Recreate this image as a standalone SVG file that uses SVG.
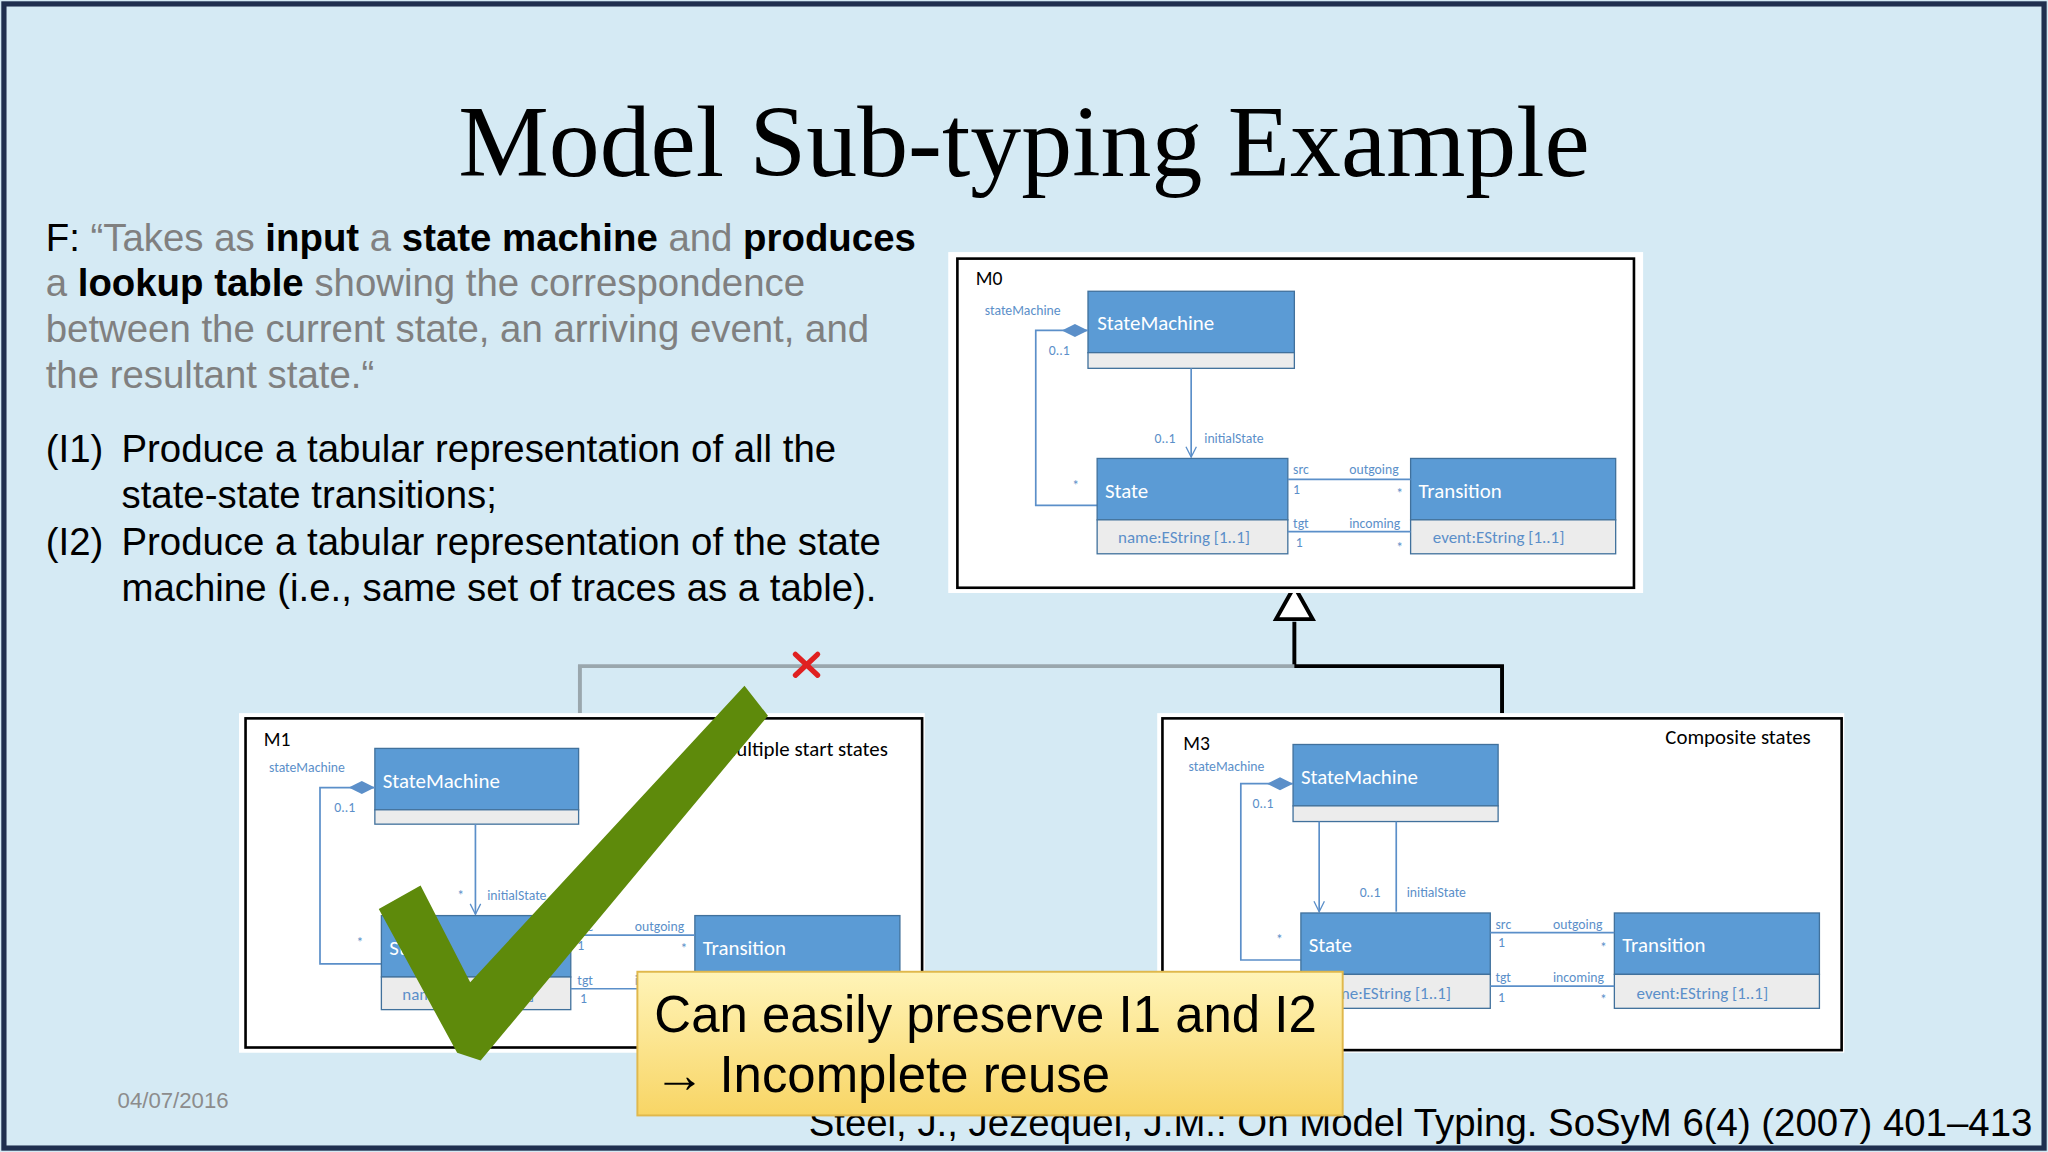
<svg xmlns="http://www.w3.org/2000/svg" width="2048" height="1152" viewBox="0 0 2048 1152">
<defs>
<style>
.t{font-family:"Liberation Sans",Arial,sans-serif}
.c{font-family:Carlito,"Open Sans","Liberation Sans",sans-serif}
.cls{fill:#5b9bd5;stroke:#41719c;stroke-width:1}
.cmp{fill:#ececec;stroke:#41719c;stroke-width:1}
.cn{fill:#fff;font-size:16px}
.at{fill:#5b8fc9;font-size:13px}
.sm{fill:#5b8fc9;font-size:10.5px}
.ln{fill:none;stroke:#5b8fc9;stroke-width:1.3}
.gray{fill:#808080}
</style>
<marker id="oa" markerWidth="12" markerHeight="12" refX="9" refY="5" orient="auto" markerUnits="userSpaceOnUse"><path d="M1,1 L9,5 L1,9" fill="none" stroke="#5b8fc9" stroke-width="1"/></marker>
<linearGradient id="yg" x1="0" y1="0" x2="0" y2="1"><stop offset="0" stop-color="#fff4b8"/><stop offset="1" stop-color="#f8d565"/></linearGradient>
</defs>
<g transform="scale(1.30612)">
<rect x="0" y="0" width="1568" height="882" fill="#d5eaf4"/>
<rect x="3" y="3" width="1562" height="876" fill="none" stroke="#1f2f4f" stroke-width="4"/>
<text x="784" y="135" text-anchor="middle" font-family="Liberation Serif,serif" font-size="78" fill="#000">Model Sub-typing Example</text>
<g class="t" font-size="29.4">
<text x="35" y="192"><tspan fill="#000">F: </tspan><tspan class="gray">“Takes as </tspan><tspan font-weight="bold">input</tspan><tspan class="gray"> a </tspan><tspan font-weight="bold">state machine</tspan><tspan class="gray"> and </tspan><tspan font-weight="bold">produces</tspan></text>
<text x="35" y="227"><tspan class="gray">a </tspan><tspan font-weight="bold">lookup table</tspan><tspan class="gray"> showing the correspondence</tspan></text>
<text x="35" y="262" class="gray">between the current state, an arriving event, and</text>
<text x="35" y="297" class="gray">the resultant state.“</text>
<text x="35" y="354">(I1)</text><text x="93" y="354">Produce a tabular representation of all the</text>
<text x="93" y="389">state-state transitions;</text>
<text x="35" y="425">(I2)</text><text x="93" y="425">Produce a tabular representation of the state</text>
<text x="93" y="460">machine (i.e., same set of traces as a table).</text>
</g>

<g id="connectors">
<polyline points="991,476 991,510 1150,510 1150,546" fill="none" stroke="#000" stroke-width="3"/>
<polyline points="991,510 444,510 444,546" fill="none" stroke="#9aa7ad" stroke-width="3"/>
<polygon points="991,449 977,474 1005,474" fill="#fff" stroke="#000" stroke-width="3"/>
<g stroke="#e02020" stroke-width="4" stroke-linecap="round"><line x1="609" y1="501" x2="626" y2="517"/><line x1="626" y1="501" x2="609" y2="517"/></g>
</g>

<g id="M0" class="c">
<rect x="726" y="193" width="532" height="261" fill="#fff"/>
<rect x="733" y="198" width="518" height="252" fill="none" stroke="#000" stroke-width="2"/>
<text x="747" y="218" font-size="15">M0</text>
<rect class="cls" x="833" y="223" width="158" height="47"/><rect class="cmp" x="833" y="270" width="158" height="12"/>
<text class="cn" x="840" y="253">StateMachine</text>
<text class="sm" x="754" y="241">stateMachine</text>
<polyline class="ln" points="833,253 793,253 793,387 840,387"/>
<polygon points="833,253 823,248 813,253 823,258" fill="#5b8fc9"/>
<text class="sm" x="803" y="272">0..1</text><text class="sm" x="821" y="375">*</text>
<line class="ln" x1="912" y1="282" x2="912" y2="350" marker-end="url(#oa)"/>
<text class="sm" x="884" y="339">0..1</text><text class="sm" x="922" y="339">initialState</text>
<rect class="cls" x="840" y="351" width="146" height="47"/><rect class="cmp" x="840" y="398" width="146" height="26"/>
<text class="cn" x="846" y="381">State</text><text class="at" x="856" y="416">name:EString [1..1]</text>
<rect class="cls" x="1080" y="351" width="157" height="47"/><rect class="cmp" x="1080" y="398" width="157" height="26"/>
<text class="cn" x="1086" y="381">Transition</text><text class="at" x="1097" y="416">event:EString [1..1]</text>
<line class="ln" x1="986" y1="367" x2="1080" y2="367"/><line class="ln" x1="986" y1="407" x2="1080" y2="407"/>
<text class="sm" x="990" y="363">src</text><text class="sm" x="990" y="378">1</text><text class="sm" x="1033" y="363">outgoing</text><text class="sm" x="1069" y="381">*</text>
<text class="sm" x="990" y="404">tgt</text><text class="sm" x="992" y="419">1</text><text class="sm" x="1033" y="404">incoming</text><text class="sm" x="1069" y="423">*</text>
</g>

<g id="M1" class="c">
<rect x="183" y="546" width="525" height="260" fill="#fff"/>
<rect x="188" y="550" width="518" height="252" fill="none" stroke="#000" stroke-width="2"/>
<text x="202" y="571" font-size="15">M1</text>
<text x="550" y="579" font-size="16">Multiple start states</text>
<rect class="cls" x="287" y="573" width="156" height="47"/><rect class="cmp" x="287" y="620" width="156" height="11"/>
<text class="cn" x="293" y="603">StateMachine</text>
<text class="sm" x="206" y="591">stateMachine</text>
<polyline class="ln" points="287,603 245,603 245,738 292,738"/>
<polygon points="287,603 277,598 267,603 277,608" fill="#5b8fc9"/>
<text class="sm" x="256" y="622">0..1</text><text class="sm" x="273" y="725">*</text>
<line class="ln" x1="364" y1="631" x2="364" y2="700" marker-end="url(#oa)"/>
<text class="sm" x="350" y="689">*</text><text class="sm" x="373" y="689">initialState</text>
<rect class="cls" x="292" y="701" width="145" height="47"/><rect class="cmp" x="292" y="748" width="145" height="25"/>
<text class="cn" x="298" y="731">State</text><text class="at" x="308" y="766">name:EString [1..1]</text>
<rect class="cls" x="532" y="701" width="157" height="45"/><rect class="cmp" x="532" y="746" width="157" height="26"/>
<text class="cn" x="538" y="731">Transition</text>
<line class="ln" x1="437" y1="716" x2="532" y2="716"/><line class="ln" x1="437" y1="757" x2="532" y2="757"/>
<text class="sm" x="442" y="713">src</text><text class="sm" x="442" y="727">1</text><text class="sm" x="486" y="713">outgoing</text><text class="sm" x="521" y="730">*</text>
<text class="sm" x="442" y="754">tgt</text><text class="sm" x="444" y="768">1</text><text class="sm" x="486" y="754">incoming</text>
</g>

<g id="M3" class="c">
<rect x="886" y="546" width="526" height="260" fill="#fff"/>
<rect x="890" y="550" width="520" height="254" fill="none" stroke="#000" stroke-width="2"/>
<text x="906" y="574" font-size="15">M3</text>
<text x="1275" y="570" font-size="16">Composite states</text>
<rect class="cls" x="990" y="570" width="157" height="47"/><rect class="cmp" x="990" y="617" width="157" height="12"/>
<text class="cn" x="996" y="600">StateMachine</text>
<text class="sm" x="910" y="590">stateMachine</text>
<polyline class="ln" points="990,600 950,600 950,735 996,735"/>
<polygon points="990,600 980,595 970,600 980,605" fill="#5b8fc9"/>
<text class="sm" x="959" y="619">0..1</text><text class="sm" x="977" y="723">*</text>
<line class="ln" x1="1010" y1="629" x2="1010" y2="698" marker-end="url(#oa)"/>
<line class="ln" x1="1069" y1="629" x2="1069" y2="698"/>
<text class="sm" x="1041" y="687">0..1</text><text class="sm" x="1077" y="687">initialState</text>
<rect class="cls" x="996" y="699" width="145" height="47"/><rect class="cmp" x="996" y="746" width="145" height="26"/>
<text class="cn" x="1002" y="729">State</text><text class="at" x="1010" y="765">name:EString [1..1]</text>
<rect class="cls" x="1236" y="699" width="157" height="47"/><rect class="cmp" x="1236" y="746" width="157" height="26"/>
<text class="cn" x="1242" y="729">Transition</text><text class="at" x="1253" y="765">event:EString [1..1]</text>
<line class="ln" x1="1141" y1="714" x2="1236" y2="714"/><line class="ln" x1="1141" y1="755" x2="1236" y2="755"/>
<text class="sm" x="1145" y="711">src</text><text class="sm" x="1147" y="725">1</text><text class="sm" x="1189" y="711">outgoing</text><text class="sm" x="1225" y="729">*</text>
<text class="sm" x="1145" y="752">tgt</text><text class="sm" x="1147" y="767">1</text><text class="sm" x="1189" y="752">incoming</text><text class="sm" x="1225" y="769">*</text>
</g>

<text x="90" y="848" class="t" font-size="17" fill="#8c8c8c">04/07/2016</text>
<text x="1556" y="870" text-anchor="end" class="t" font-size="29.4" fill="#000">Steel, J., Jezequel, J.M.: On Model Typing. SoSyM 6(4) (2007) 401–413</text>

<polygon points="290,696 322,678 360,752 570,525 588,548 368,812 350,806" fill="#5e8a0b"/>

<g id="callout">
<rect x="488" y="744" width="540" height="110" fill="url(#yg)" stroke="#e0b84c" stroke-width="1.5"/>
<text x="501" y="790" class="t" font-size="39" fill="#000">Can easily preserve I1 and I2</text>
<text x="501" y="836" class="t" font-size="39" fill="#000">→ Incomplete reuse</text>
</g>
</g>
</svg>
